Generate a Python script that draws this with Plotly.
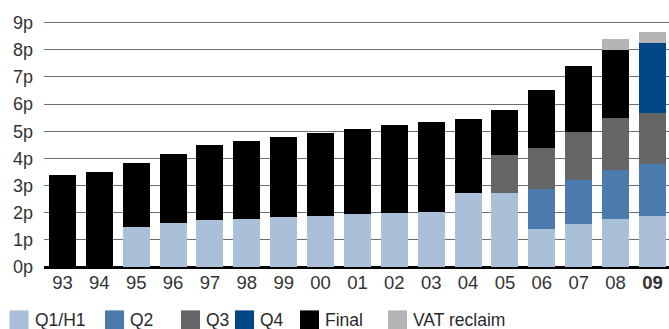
import plotly.graph_objects as go

years = ["93", "94", "95", "96", "97", "98", "99", "00", "01", "02",
         "03", "04", "05", "06", "07", "08", "09"]
tick_text = years[:-1] + ["<b>09</b>"]

q1_h1 = [0, 0, 1.46, 1.61, 1.72, 1.76, 1.83, 1.87, 1.94, 1.98,
         2.02, 2.72, 2.72, 1.39, 1.57, 1.76, 1.87]
q2 = [0, 0, 0, 0, 0, 0, 0, 0, 0, 0, 0, 0, 0, 1.48, 1.63, 1.81, 1.92]
q3 = [0, 0, 0, 0, 0, 0, 0, 0, 0, 0, 0, 0, 1.40, 1.51, 1.77, 1.92, 1.88]
q4 = [0, 0, 0, 0, 0, 0, 0, 0, 0, 0, 0, 0, 0, 0, 0, 0, 2.58]
final = [3.38, 3.49, 2.36, 2.55, 2.77, 2.88, 2.95, 3.06, 3.14, 3.25,
         3.32, 2.73, 1.66, 2.14, 2.43, 2.50, 0]
vat_reclaim = [0, 0, 0, 0, 0, 0, 0, 0, 0, 0, 0, 0, 0, 0, 0, 0.41, 0.41]

y_ticks = [0, 1, 2, 3, 4, 5, 6, 7, 8, 9]
y_tick_labels = [f"{v}p" for v in y_ticks]

series = [
    ("Q1/H1", q1_h1, "#aac0d8"),
    ("Q2", q2, "#4a7bac"),
    ("Q3", q3, "#646567"),
    ("Q4", q4, "#004685"),
    ("Final", final, "#000000"),
    ("VAT reclaim", vat_reclaim, "#b4b4b4"),
]

W, H = 669, 329
L, R, T, B = 44, 0, 9, 62.33
pw, ph = W - L - R, H - T - B

fig = go.Figure()
for name, vals, col in series:
    fig.add_trace(go.Bar(x=years, y=vals, name=name, marker_color=col,
                         marker_line_width=0, showlegend=False))

def px_x(px):
    return (px - L) / pw

def px_y(py):
    return (H - B - py) / ph

shapes = []
annotations = []
sq_x = [9.5, 105, 181, 235, 300, 388]
for (name, vals, col), sx in zip(series, sq_x):
    shapes.append(dict(type="rect", xref="paper", yref="paper",
                       x0=px_x(sx), x1=px_x(sx + 19), y0=px_y(310), y1=px_y(331),
                       fillcolor=col, line_width=0))
    annotations.append(dict(text=name, xref="paper", yref="paper",
                            x=px_x(sx + 24), y=px_y(319.5), xanchor="left",
                            yanchor="middle", showarrow=False, borderpad=0,
                            font=dict(family="Liberation Sans, Arial, sans-serif",
                                      size=17.5, color="#2a2a2a")))

fig.update_layout(
    width=W, height=H,
    margin=dict(l=L, r=R, t=T, b=B, pad=0),
    barmode="stack", bargap=0.27,
    plot_bgcolor="white", paper_bgcolor="white",
    font=dict(family="Liberation Sans, Arial, sans-serif", size=18, color="#333"),
    shapes=shapes, annotations=annotations,
    xaxis=dict(type="category", range=[-0.5, 16.45], tickvals=years, ticktext=tick_text,
               showgrid=False, showline=False, ticks="", ticklabelstandoff=2,
               tickfont=dict(size=18.5, color="#333")),
    yaxis=dict(range=[0, 9.5], tickmode="array", tickvals=y_ticks, ticktext=y_tick_labels,
               showgrid=True, gridcolor="#6e6e6e", gridwidth=1,
               zeroline=True, zerolinecolor="#000", zerolinewidth=3,
               showline=False, ticks="", ticklabelstandoff=10,
               tickfont=dict(size=18, color="#333")),
)

fig.write_html("out.html")
